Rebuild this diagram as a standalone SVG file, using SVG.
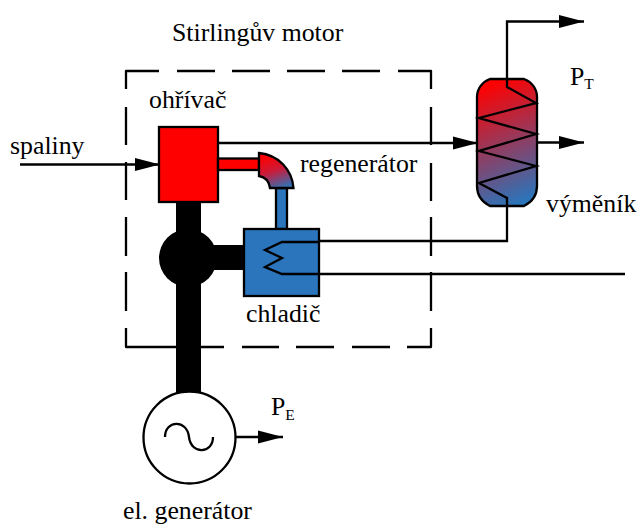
<svg xmlns="http://www.w3.org/2000/svg" width="638" height="525" viewBox="0 0 638 525">
<style>
text{font-family:"Liberation Serif","Times New Roman",serif;font-size:25.800px;fill:#000}
.sub{font-size:15.500px}
.w{fill:none;stroke:#000;stroke-width:2.300}
.b{stroke:#000;stroke-width:2.300}
</style>
<defs>
<marker id="arr" markerUnits="userSpaceOnUse" markerWidth="26" markerHeight="14" refX="25" refY="7" orient="auto"><path d="M0 0.500L25 7L0 13.500Z" fill="#000"/></marker>
<linearGradient id="g1" x1="0.4" y1="0" x2="0.6" y2="1"><stop offset="0" stop-color="#f00"/><stop offset="1" stop-color="#2a75bb"/></linearGradient>
<linearGradient id="g2" gradientUnits="userSpaceOnUse" x1="268" y1="155" x2="280" y2="190"><stop offset="0" stop-color="#f00"/><stop offset="0.45" stop-color="#cc1a38"/><stop offset="1" stop-color="#2a75bb"/></linearGradient>
</defs>
<g id="motor-boundary"><path class="w" stroke-linejoin="round" d="M126 89V71H159M177 71H215M232 71H270M287 71H325M342 71H380M398 71H431V89M431 107V145M431 163V201M431 217V256M431 272V311M431 328V347H407M390 347H352M334 347H296M279 347H242M224 347H126V328M126 311V272M126 256V217M126 200V162M126 145V107"/></g>
<g id="shafts">
<rect x="176" y="200" width="25" height="194" fill="#000"/>
<rect x="200" y="245" width="46" height="25" fill="#000"/>
<circle cx="188" cy="258" r="29" fill="#000"/>
</g>
<g id="connectors">
<path class="w" d="M20 164.500H160" marker-end="url(#arr)"/>
<path class="w" d="M218 143H478" marker-end="url(#arr)"/>
<path class="w" d="M507 88V21.500H584" marker-end="url(#arr)"/>
<path class="w" d="M537 142.500H584" marker-end="url(#arr)"/>
<path class="w" d="M319 241H507V198"/>
<path class="w" d="M319 274H625"/>
<path class="w" d="M235 437H283" marker-end="url(#arr)"/>
</g>
<g id="ohrivac"><rect class="b" x="159" y="127" width="59" height="75" fill="#f00"/></g>
<g id="regenerator">
<rect class="b" x="218" y="158.500" width="41" height="11.500" fill="#f00"/>
<rect class="b" x="276" y="188" width="11" height="41" fill="#2a75bb"/>
<path class="b" d="M259 153C279 155 292 170 293.500 188H270C269 181 265 177 259 176Z" fill="url(#g2)"/>
</g>
<g id="chladic">
<rect class="b" x="244" y="229" width="75" height="67" fill="#2a75bb"/>
<path class="w" d="M319 242H282L265 250L282 258L265 267L282 274H319"/>
</g>
<g id="vymenik">
<path class="b" d="M490 79H524C532 82 537 89 537 97V186C537 195 532 202 524 206H490C482 202 477 195 477 186V97C477 89 482 82 490 79Z" fill="url(#g1)"/>
<path class="w" d="M507 79V87L536 103L479 118L536 134L479 151L536 166L479 183L507 198V206"/>
</g>
<g id="generator">
<circle cx="189.500" cy="437.500" r="46" fill="#fff" stroke="#000" stroke-width="2.300"/>
<path class="w" d="M165 437C165 420 187 419 189 437C191 455 213 454 213 437"/>
</g>
<g id="labels">
<text x="172" y="41">Stirlingův motor</text>
<text x="149" y="108">ohřívač</text>
<text x="10" y="154">spaliny</text>
<text x="300" y="172">regenerátor</text>
<text x="246" y="322">chladič</text>
<text x="546" y="212">výměník</text>
<text x="570" y="85">P<tspan class="sub" dy="4">T</tspan></text>
<text x="271" y="415">P<tspan class="sub" dy="5">E</tspan></text>
<text x="123" y="519">el. generátor</text>
</g>
</svg>
